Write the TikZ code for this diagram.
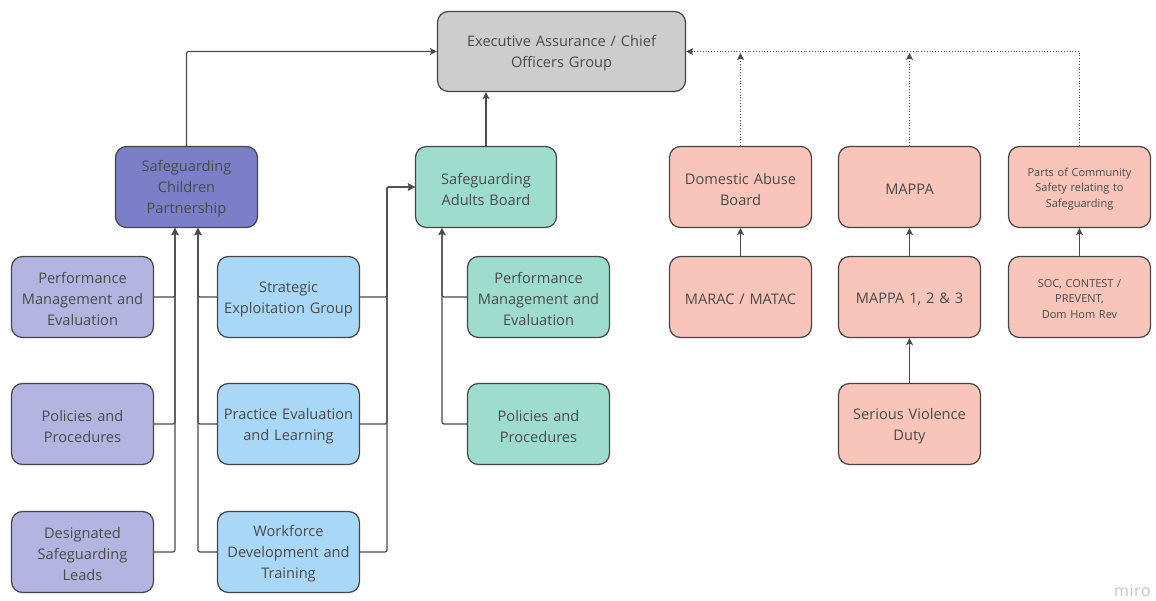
\documentclass[tikz,border=0pt]{standalone}
\usepackage{fontspec}
\setmainfont{Open Sans}
\usetikzlibrary{arrows.meta}
\definecolor{txt}{HTML}{4A4A4A}
\definecolor{edge}{HTML}{444444}
\definecolor{ln}{HTML}{4A4A4A}
\definecolor{cexec}{HTML}{CDCDCD}
\definecolor{cscp}{HTML}{7A7FC8}
\definecolor{clav}{HTML}{B3B5E0}
\definecolor{cblue}{HTML}{A9D7F7}
\definecolor{cgreen}{HTML}{9EDDCE}
\definecolor{cred}{HTML}{F9C5BB}
\definecolor{cmiro}{HTML}{C4C4CC}
\def\bxs{15.5pt}
\tikzset{
  box/.style={draw=edge, line width=1.2pt, rounded corners=11pt, minimum width=142pt, minimum height=81pt,
    align=center, text=txt, font=\fontsize{14.6}{21}\selectfont, inner sep=2pt, text width=136pt,
    execute at begin node={\rule{0pt}{\bxs}}},
  small/.style={font=\fontsize{11}{15.5}\selectfont\def\bxs{12pt}},
  conn/.style={draw=ln, line width=1.2pt, rounded corners=2pt},
  arr/.style={conn, -{Stealth[length=7pt,width=7pt,inset=1.5pt]}},
  dot/.style={draw=ln, line width=0.8pt, dotted, -{Stealth[length=7pt,width=7pt,inset=1.5pt]}}
}
\begin{document}
\begin{tikzpicture}[x=1pt,y=-1pt]
\useasboundingbox (0,0) rectangle (1156,601);
% top
\node[box, fill=cexec, minimum width=248pt, minimum height=80pt, text width=236pt] (exec) at (561.5,51.5) {Executive Assurance / Chief\\Officers Group};
\node[box, fill=cscp] (scp) at (186.5,187) {Safeguarding\\Children\\Partnership};
\node[box, fill=cgreen, minimum width=141pt] (sab) at (486,187) {Safeguarding\\Adults Board};
% left column
\node[box, fill=clav] (pm1) at (82.5,297) {Performance\\Management and\\Evaluation};
\node[box, fill=clav] (pp1) at (82.5,424) {Policies and\\Procedures};
\node[box, fill=clav] (dsl) at (82.5,552) {Designated\\Safeguarding\\Leads};
% blue column
\node[box, fill=cblue] (seg) at (288.5,297) {Strategic\\Exploitation Group};
\node[box, fill=cblue] (pel) at (288.5,424) {Practice Evaluation\\and Learning};
\node[box, fill=cblue] (wdt) at (288.5,552) {Workforce\\Development and\\Training};
% green column
\node[box, fill=cgreen] (pm2) at (538.5,297) {Performance\\Management and\\Evaluation};
\node[box, fill=cgreen] (pp2) at (538.5,424) {Policies and\\Procedures};
% red
\node[box, fill=cred] (dab) at (740.5,187) {Domestic Abuse\\Board};
\node[box, fill=cred] (mappa) at (909.5,187) {MAPPA};
\node[box, fill=cred, small] (parts) at (1079.5,187) {Parts of Community\\Safety relating to\\Safeguarding};
\node[box, fill=cred] (marac) at (740.5,297) {MARAC / MATAC};
\node[box, fill=cred] (m123) at (909.5,297) {MAPPA 1, 2 \& 3};
\node[box, fill=cred, small] (soc) at (1079.5,297) {SOC, CONTEST /\\PREVENT,\\Dom Hom Rev};
\node[box, fill=cred] (svd) at (909.5,424) {Serious Violence\\Duty};
% watermark
\node[text=cmiro, font=\fontsize{16}{16}\selectfont, anchor=east, inner sep=0pt] (miro) at (1151,591) {m\kern0.5pt i\kern0.5pt r\kern0.5pt o};
% junction coordinates
\coordinate (scpL) at ([xshift=-11.5pt]scp.south);
\coordinate (scpR) at ([xshift=11.5pt]scp.south);
\coordinate (sabJ) at ([xshift=-28pt]sab.west);
\coordinate (sabG) at ([xshift=-44pt]sab.south);
% connectors to exec
\draw[arr] (scp.north) |- (exec.west);
\draw[arr] (sab.north) -- (sab.north |- exec.south);
\draw[dot] (parts.north) |- (exec.east);
\draw[dot, shorten >=1.5pt] (dab.north) -- (dab.north |- exec.east);
\draw[dot, shorten >=1.5pt] (mappa.north) -- (mappa.north |- exec.east);
% left column to scp
\draw[arr] (pm1.east) -| (scpL);
\draw[arr] (pp1.east) -| (scpL);
\draw[arr] (dsl.east) -| (scpL);
% blue column to scp
\draw[arr] (seg.west) -| (scpR);
\draw[arr] (pel.west) -| (scpR);
\draw[arr] (wdt.west) -| (scpR);
% blue column to sab
\draw[arr] (seg.east) -| (sabJ) -- (sab.west);
\draw[arr] (pel.east) -| (sabJ) -- (sab.west);
\draw[arr] (wdt.east) -| (sabJ) -- (sab.west);
% green column to sab
\draw[arr] (pm2.west) -| (sabG);
\draw[arr] (pp2.west) -| (sabG);
% red
\draw[arr] (marac.north) -- (dab.south);
\draw[arr] (m123.north) -- (mappa.south);
\draw[arr] (soc.north) -- (parts.south);
\draw[arr] (svd.north) -- (m123.south);
\end{tikzpicture}
\end{document}
